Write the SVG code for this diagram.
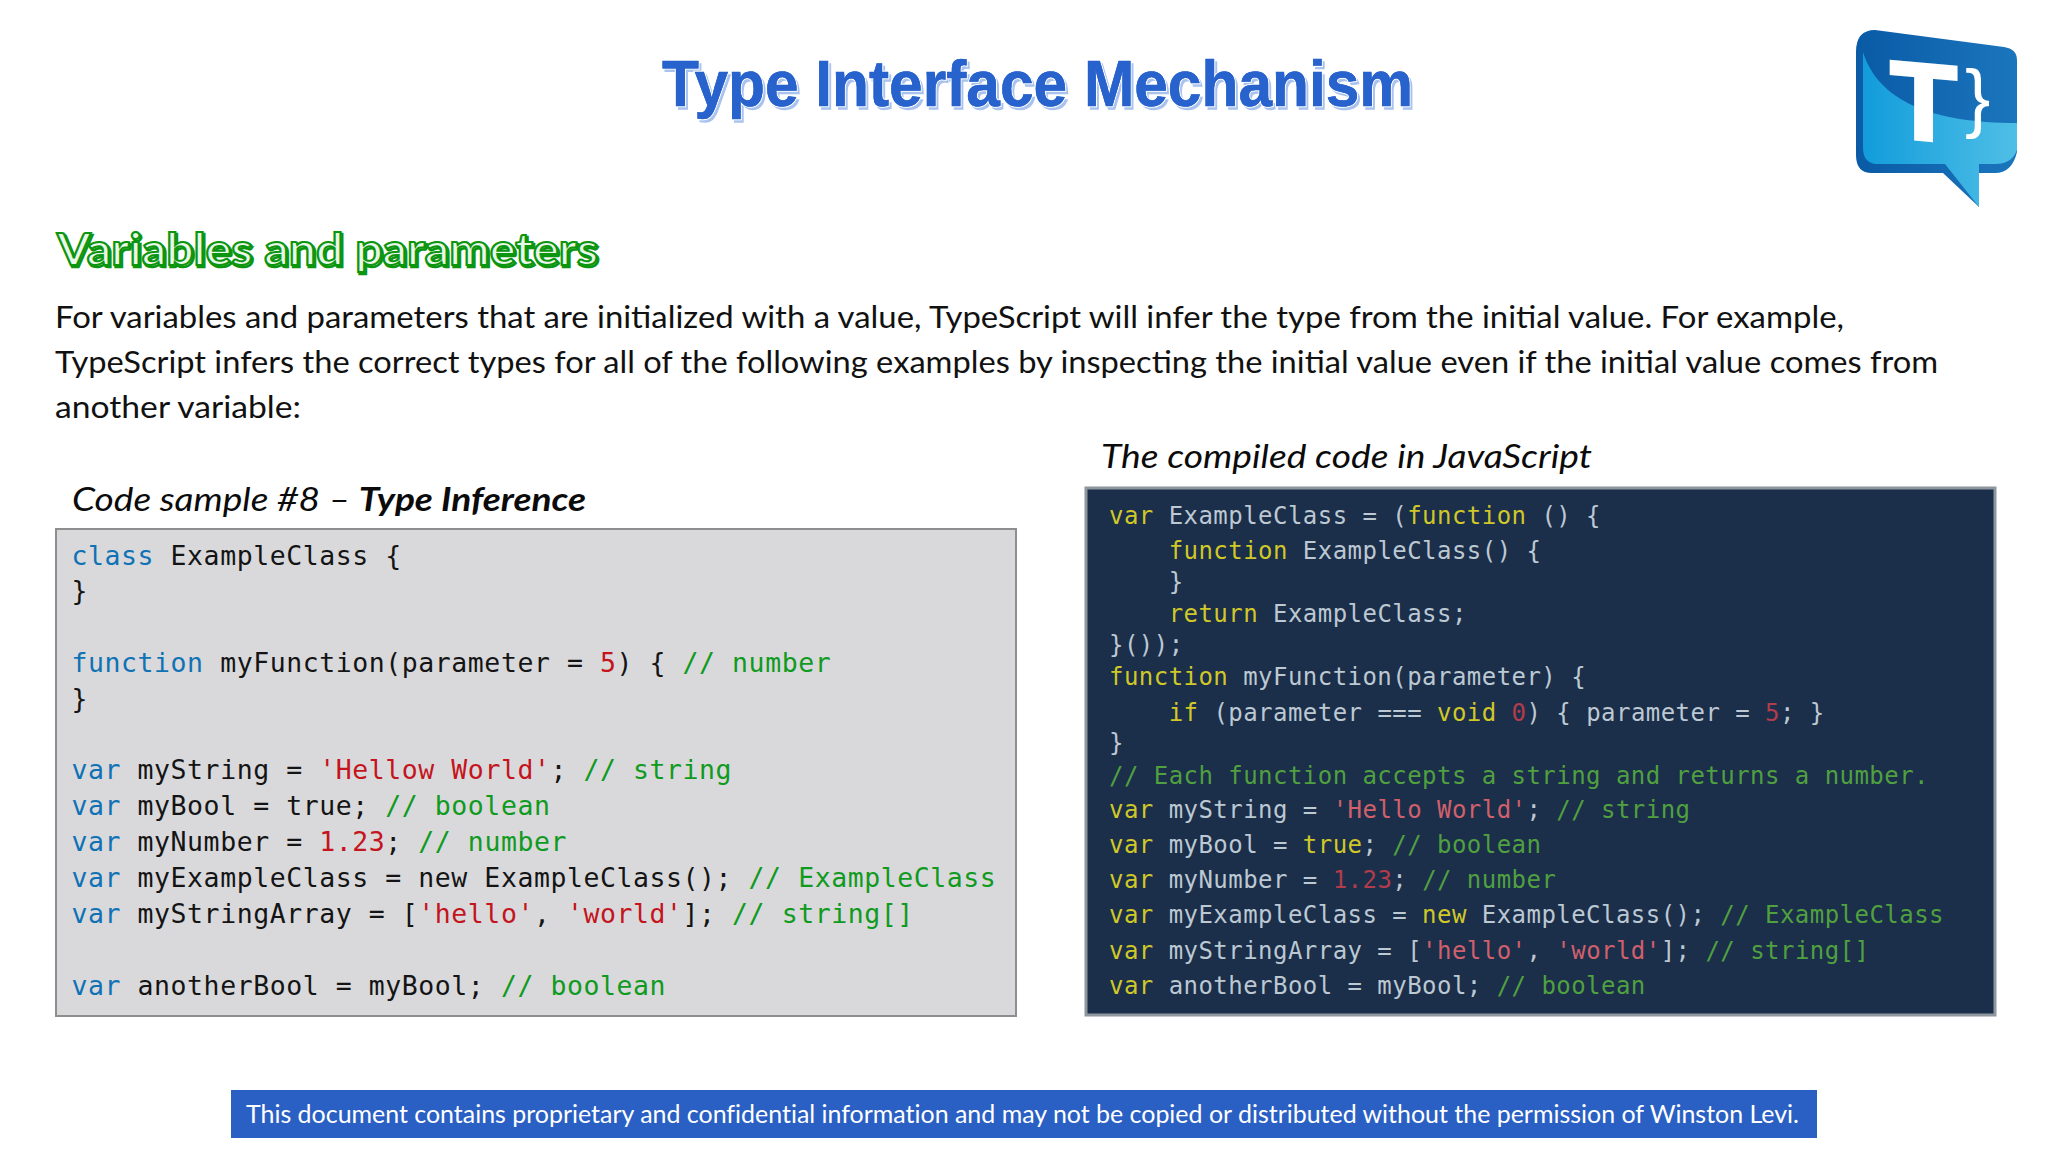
<svg xmlns="http://www.w3.org/2000/svg" width="2048" height="1152" viewBox="0 0 2048 1152">
<style>
text{white-space:pre;font-variant-ligatures:none}
.title{font:bold 65px "Liberation Sans",Arial,sans-serif}
.head{font:bold 43px "Lato","Noto Sans",sans-serif}
.body{font:400 30.5px "Lato","Noto Sans",sans-serif;fill:#111}
.cap{font:italic 400 33px "Lato","Noto Sans",sans-serif;fill:#0b0b0b}
.l{font:26.5px "DejaVu Sans Mono",monospace;letter-spacing:.56px;fill:#141414}
.r{font:24px "DejaVu Sans Mono",monospace;letter-spacing:.46px;fill:#bcc8d2}
.k{fill:#0f72b5}.s{fill:#c4141c}.c{fill:#0f9a20}
.ky{fill:#d0c828}.rs{fill:#d0606c}.rn{fill:#b03c4c}.rc{fill:#50a040}
</style>
<defs>
<linearGradient id="gd" x1="0" x2="1" y1="0" y2="0"><stop offset="0" stop-color="#0a5aa6"/><stop offset="1" stop-color="#1b76bd"/></linearGradient>
<linearGradient id="gl" x1="0" x2="1" y1="0" y2="0"><stop offset="0" stop-color="#129cdb"/><stop offset="1" stop-color="#4fbfe6"/></linearGradient>
</defs>
<rect width="2048" height="1152" fill="#fff"/>

<g id="title">
<text class="title" x="664.5" y="108.5" textLength="751" lengthAdjust="spacingAndGlyphs" fill="#a9c3ee" stroke="#a9c3ee" stroke-width="1.4">Type Interface Mechanism</text>
<text class="title" x="662" y="106" textLength="751" lengthAdjust="spacingAndGlyphs" fill="#2862cc" stroke="#fff" stroke-width="2.6" paint-order="stroke">Type Interface Mechanism</text>
<text class="title" x="662" y="106" textLength="751" lengthAdjust="spacingAndGlyphs" fill="#2862cc" stroke="#2862cc" stroke-width=".5">Type Interface Mechanism</text>
</g>

<g id="logo">
<path d="M1856,52Q1856,30 1875,30L2004,47Q2017,49 2017,60L2017,152Q2012,173 1995,173L1979,173L1979,207L1943,173L1872,173Q1856,173 1856,155Z" fill="url(#gd)"/>
<path d="M1863,52C1878,100 1930,123 2017,123L2017,150Q2012,164 1995,164L1979,164L1979,207L1945,164L1875,164Q1863,162 1863,148Z" fill="url(#gl)"/>
<text transform="translate(1890,137) skewY(5)" font-family="Liberation Sans, Arial, sans-serif" font-weight="700" font-size="110" fill="#fff" stroke="#fff" stroke-width="3">T</text>
<text x="1965" y="123" font-family="Liberation Sans, Arial, sans-serif" font-weight="400" font-size="76" fill="#fff">}</text>
</g>

<g id="heading">
<text class="head" x="58.5" y="266.5" textLength="541" lengthAdjust="spacingAndGlyphs" fill="none" stroke="#0c9610" stroke-width="2.6">Variables and parameters</text>
<text class="head" x="57" y="265" textLength="541" lengthAdjust="spacingAndGlyphs" fill="#e9f7e9" stroke="#0c9610" stroke-width="2">Variables and parameters</text>
</g>

<g id="intro">
<text class="body" x="55" y="328" textLength="1789" lengthAdjust="spacingAndGlyphs">For variables and parameters that are initialized with a value, TypeScript will infer the type from the initial value. For example,</text>
<text class="body" x="55" y="373" textLength="1883" lengthAdjust="spacingAndGlyphs">TypeScript infers the correct types for all of the following examples by inspecting the initial value even if the initial value comes from</text>
<text class="body" x="55" y="418" textLength="246" lengthAdjust="spacingAndGlyphs">another variable:</text>
</g>

<g id="caption-left">
<text class="cap" x="72" y="511" textLength="514" lengthAdjust="spacingAndGlyphs">Code sample #8 – <tspan font-weight="700">Type Inference</tspan></text>
</g>
<g id="caption-right">
<text class="cap" x="1101" y="468" textLength="491" lengthAdjust="spacingAndGlyphs">The compiled code in JavaScript</text>
</g>

<g id="code-left">
<rect x="56" y="529" width="960" height="487" fill="#d9d9dc" stroke="#8e8e8e" stroke-width="2"/>
<text class="l" x="71.5" y="565"><tspan class="k">class</tspan> ExampleClass {</text>
<text class="l" x="71.5" y="600">}</text>
<text class="l" x="71.5" y="672"><tspan class="k">function</tspan> myFunction(parameter = <tspan class="s">5</tspan>) { <tspan class="c">// number</tspan></text>
<text class="l" x="71.5" y="708">}</text>
<text class="l" x="71.5" y="779"><tspan class="k">var</tspan> myString = <tspan class="s">'Hellow World'</tspan>; <tspan class="c">// string</tspan></text>
<text class="l" x="71.5" y="815"><tspan class="k">var</tspan> myBool = true; <tspan class="c">// boolean</tspan></text>
<text class="l" x="71.5" y="851"><tspan class="k">var</tspan> myNumber = <tspan class="s">1.23</tspan>; <tspan class="c">// number</tspan></text>
<text class="l" x="71.5" y="887"><tspan class="k">var</tspan> myExampleClass = new ExampleClass(); <tspan class="c">// ExampleClass</tspan></text>
<text class="l" x="71.5" y="923"><tspan class="k">var</tspan> myStringArray = [<tspan class="s">'hello'</tspan>, <tspan class="s">'world'</tspan>]; <tspan class="c">// string[]</tspan></text>
<text class="l" x="71.5" y="995"><tspan class="k">var</tspan> anotherBool = myBool; <tspan class="c">// boolean</tspan></text>
</g>

<g id="code-right">
<rect x="1086" y="488" width="909" height="527" fill="#1b2e4a" stroke="#8e969e" stroke-width="3"/>
<text class="r" x="1109" y="524"><tspan class="ky">var</tspan> ExampleClass = (<tspan class="ky">function</tspan> () {</text>
<text class="r" x="1109" y="559">    <tspan class="ky">function</tspan> ExampleClass() {</text>
<text class="r" x="1109" y="590">    }</text>
<text class="r" x="1109" y="622">    <tspan class="ky">return</tspan> ExampleClass;</text>
<text class="r" x="1109" y="653">}());</text>
<text class="r" x="1109" y="685"><tspan class="ky">function</tspan> myFunction(parameter) {</text>
<text class="r" x="1109" y="721">    <tspan class="ky">if</tspan> (parameter === <tspan class="ky">void</tspan> <tspan class="rn">0</tspan>) { parameter = <tspan class="rn">5</tspan>; }</text>
<text class="r" x="1109" y="751">}</text>
<text class="r" x="1109" y="784"><tspan class="rc">// Each function accepts a string and returns a number.</tspan></text>
<text class="r" x="1109" y="818"><tspan class="ky">var</tspan> myString = <tspan class="rs">'Hello World'</tspan>; <tspan class="rc">// string</tspan></text>
<text class="r" x="1109" y="853"><tspan class="ky">var</tspan> myBool = <tspan class="ky">true</tspan>; <tspan class="rc">// boolean</tspan></text>
<text class="r" x="1109" y="888"><tspan class="ky">var</tspan> myNumber = <tspan class="rn">1.23</tspan>; <tspan class="rc">// number</tspan></text>
<text class="r" x="1109" y="923"><tspan class="ky">var</tspan> myExampleClass = <tspan class="ky">new</tspan> ExampleClass(); <tspan class="rc">// ExampleClass</tspan></text>
<text class="r" x="1109" y="959"><tspan class="ky">var</tspan> myStringArray = [<tspan class="rs">'hello'</tspan>, <tspan class="rs">'world'</tspan>]; <tspan class="rc">// string[]</tspan></text>
<text class="r" x="1109" y="994"><tspan class="ky">var</tspan> anotherBool = myBool; <tspan class="rc">// boolean</tspan></text>
</g>

<g id="footer">
<rect x="231" y="1090" width="1586" height="48" fill="#2a60c4"/>
<text x="246" y="1123" textLength="1553" lengthAdjust="spacingAndGlyphs" font-family="Lato, Noto Sans, sans-serif" font-size="25" fill="#fff">This document contains proprietary and confidential information and may not be copied or distributed without the permission of Winston Levi.</text>
</g>
</svg>
